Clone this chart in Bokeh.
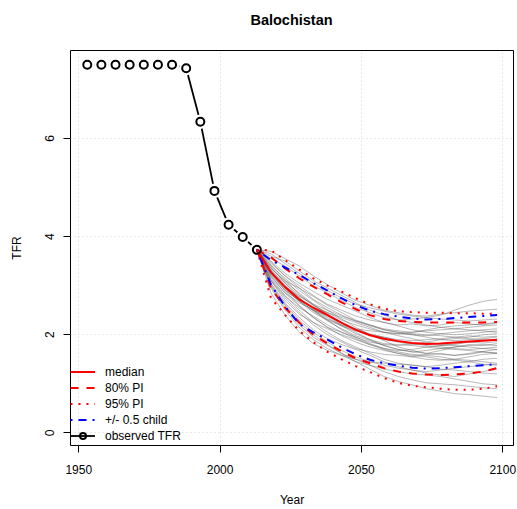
from bokeh.plotting import figure
from bokeh.models import Range1d, FixedTicker, Legend, LegendItem, Div
from bokeh.layouts import column
from bokeh.embed import file_html
from bokeh.resources import INLINE

# ---------------- data ----------------
title_text = "Balochistan"
obs_years = [1953, 1958, 1963, 1968, 1973, 1978, 1983, 1988, 1993, 1998, 2003, 2008, 2013]
obs_tfr = [7.5, 7.5, 7.5, 7.5, 7.5, 7.5, 7.5, 7.43, 6.34, 4.93, 4.24, 3.99, 3.73]

proj_years = [2013, 2018, 2023, 2028, 2033, 2038, 2043, 2048, 2053, 2058,
              2063, 2068, 2073, 2078, 2083, 2088, 2093, 2098]
median = [3.73, 3.27, 2.97, 2.72, 2.55, 2.40, 2.24, 2.10, 1.99, 1.92,
          1.87, 1.83, 1.81, 1.82, 1.84, 1.86, 1.88, 1.90]
pi80_hi = [3.73, 3.58, 3.35, 3.15, 2.98, 2.82, 2.66, 2.52, 2.40, 2.32,
           2.28, 2.26, 2.25, 2.25, 2.25, 2.25, 2.25, 2.26]
pi80_lo = [3.73, 2.95, 2.55, 2.25, 2.00, 1.82, 1.66, 1.52, 1.42, 1.32,
           1.25, 1.21, 1.19, 1.18, 1.19, 1.21, 1.25, 1.32]
pi95_hi = [3.73, 3.72, 3.52, 3.33, 3.15, 3.00, 2.88, 2.74, 2.62, 2.53,
           2.48, 2.46, 2.45, 2.45, 2.44, 2.44, 2.43, 2.43]
pi95_lo = [3.73, 2.75, 2.40, 2.08, 1.85, 1.65, 1.50, 1.36, 1.24, 1.12,
           1.02, 0.96, 0.93, 0.90, 0.88, 0.88, 0.90, 0.95]
half_hi = [3.73, 3.52, 3.37, 3.22, 3.05, 2.90, 2.74, 2.60, 2.49, 2.42,
           2.37, 2.33, 2.31, 2.32, 2.34, 2.36, 2.38, 2.40]
half_lo = [3.73, 3.02, 2.57, 2.22, 2.05, 1.90, 1.74, 1.60, 1.49, 1.42,
           1.37, 1.33, 1.31, 1.32, 1.34, 1.36, 1.38, 1.40]

trajectories = [
    [3.73, 3.45, 3.2, 3.0, 2.8, 2.62, 2.5, 2.38, 2.3, 2.25, 2.2, 2.22, 2.18, 2.2, 2.25, 2.22, 2.2, 2.24],
    [3.73, 3.1, 2.75, 2.45, 2.2, 2.0, 1.85, 1.72, 1.65, 1.6, 1.58, 1.55, 1.6, 1.62, 1.58, 1.6, 1.65, 1.63],
    [3.73, 3.3, 3.05, 2.8, 2.6, 2.42, 2.25, 2.1, 2.0, 1.9, 1.85, 1.8, 1.82, 1.78, 1.8, 1.85, 1.83, 1.86],
    [3.73, 3.55, 3.4, 3.2, 3.0, 2.85, 2.7, 2.55, 2.45, 2.35, 2.3, 2.32, 2.35, 2.4, 2.5, 2.6, 2.68, 2.72],
    [3.73, 3.0, 2.6, 2.25, 2.0, 1.8, 1.62, 1.45, 1.3, 1.15, 1.05, 0.98, 0.9, 0.85, 0.8, 0.78, 0.75, 0.72],
    [3.73, 3.25, 2.9, 2.6, 2.35, 2.15, 2.05, 1.95, 1.85, 1.8, 1.78, 1.82, 1.85, 1.9, 1.92, 1.95, 2.0, 2.02],
    [3.73, 3.4, 3.15, 2.9, 2.7, 2.5, 2.32, 2.15, 2.0, 1.88, 1.75, 1.68, 1.62, 1.6, 1.58, 1.62, 1.66, 1.7],
    [3.73, 3.2, 2.85, 2.65, 2.5, 2.38, 2.2, 2.05, 1.9, 1.78, 1.7, 1.65, 1.62, 1.68, 1.75, 1.8, 1.78, 1.82],
    [3.73, 3.35, 3.1, 2.95, 2.78, 2.6, 2.45, 2.3, 2.2, 2.1, 2.05, 2.0, 1.98, 2.02, 2.05, 2.08, 2.1, 2.12],
    [3.73, 3.15, 2.8, 2.5, 2.25, 2.05, 1.88, 1.75, 1.62, 1.5, 1.42, 1.38, 1.35, 1.38, 1.42, 1.45, 1.5, 1.52],
    [3.73, 3.6, 3.5, 3.3, 3.1, 2.95, 2.8, 2.65, 2.5, 2.4, 2.3, 2.25, 2.2, 2.15, 2.12, 2.1, 2.08, 2.05],
    [3.73, 3.05, 2.65, 2.35, 2.1, 1.92, 1.8, 1.7, 1.58, 1.45, 1.35, 1.28, 1.22, 1.18, 1.15, 1.2, 1.25, 1.3],
    [3.73, 3.3, 2.95, 2.68, 2.45, 2.3, 2.18, 2.08, 2.0, 1.95, 1.9, 1.88, 1.9, 1.92, 1.95, 1.98, 1.95, 1.97],
    [3.73, 3.22, 2.9, 2.7, 2.55, 2.45, 2.35, 2.25, 2.15, 2.05, 1.98, 1.92, 1.85, 1.8, 1.78, 1.75, 1.72, 1.7],
    [3.73, 3.38, 3.05, 2.75, 2.5, 2.3, 2.1, 1.95, 1.82, 1.72, 1.65, 1.6, 1.58, 1.55, 1.5, 1.48, 1.45, 1.42],
    [3.73, 3.5, 3.25, 3.05, 2.88, 2.72, 2.6, 2.48, 2.35, 2.25, 2.18, 2.1, 2.05, 2.02, 2.0, 2.02, 2.05, 2.08],
    [3.73, 2.95, 2.5, 2.15, 1.9, 1.72, 1.58, 1.45, 1.38, 1.3, 1.25, 1.2, 1.18, 1.15, 1.1, 1.05, 1.0, 0.98],
    [3.73, 3.28, 3.0, 2.75, 2.52, 2.35, 2.18, 2.02, 1.9, 1.82, 1.8, 1.78, 1.75, 1.72, 1.75, 1.78, 1.8, 1.78],
    [3.73, 3.42, 3.12, 2.82, 2.6, 2.45, 2.3, 2.2, 2.12, 2.05, 2.02, 2.0, 1.95, 1.9, 1.88, 1.9, 1.92, 1.95],
    [3.73, 3.18, 2.85, 2.58, 2.35, 2.15, 1.98, 1.85, 1.75, 1.68, 1.62, 1.58, 1.55, 1.5, 1.48, 1.45, 1.4, 1.38],
    [3.73, 3.65, 3.45, 3.25, 3.05, 2.9, 2.75, 2.62, 2.55, 2.48, 2.42, 2.38, 2.35, 2.32, 2.3, 2.28, 2.3, 2.32],
    [3.73, 3.1, 2.7, 2.42, 2.25, 2.12, 2.0, 1.9, 1.8, 1.72, 1.68, 1.7, 1.75, 1.78, 1.82, 1.85, 1.88, 1.9],
    [3.73, 3.32, 3.0, 2.7, 2.48, 2.28, 2.12, 1.98, 1.88, 1.78, 1.7, 1.65, 1.68, 1.72, 1.7, 1.68, 1.65, 1.62],
    [3.73, 3.25, 2.92, 2.68, 2.5, 2.32, 2.2, 2.12, 2.08, 2.05, 2.02, 2.05, 2.08, 2.1, 2.12, 2.15, 2.18, 2.2],
    [3.73, 3.02, 2.62, 2.3, 2.05, 1.85, 1.68, 1.55, 1.45, 1.38, 1.32, 1.28, 1.25, 1.28, 1.32, 1.35, 1.38, 1.4],
    [3.73, 3.48, 3.2, 2.95, 2.72, 2.55, 2.4, 2.28, 2.18, 2.1, 2.05, 2.02, 2.0, 1.98, 1.95, 1.92, 1.9, 1.88],
    [3.73, 3.35, 3.08, 2.85, 2.62, 2.42, 2.25, 2.12, 2.02, 1.95, 1.88, 1.82, 1.78, 1.75, 1.72, 1.7, 1.72, 1.75],
    [3.73, 3.12, 2.78, 2.55, 2.38, 2.2, 2.05, 1.92, 1.8, 1.7, 1.62, 1.55, 1.5, 1.48, 1.5, 1.55, 1.6, 1.62],
    [3.73, 3.28, 2.98, 2.78, 2.62, 2.5, 2.38, 2.28, 2.2, 2.12, 2.08, 2.05, 2.1, 2.15, 2.18, 2.2, 2.22, 2.25],
    [3.73, 2.98, 2.55, 2.2, 1.95, 1.78, 1.62, 1.5, 1.38, 1.25, 1.15, 1.08, 1.02, 1.0, 0.98, 0.95, 0.92, 0.9],
    [3.73, 3.7, 3.55, 3.4, 3.2, 3.02, 2.85, 2.7, 2.6, 2.5, 2.45, 2.4, 2.38, 2.42, 2.45, 2.48, 2.5, 2.52],
    [3.73, 2.85, 2.4, 2.05, 1.82, 1.68, 1.58, 1.5, 1.45, 1.42, 1.4, 1.38, 1.35, 1.3, 1.28, 1.25, 1.22, 1.2],
]

x_ticks = [1950, 2000, 2050, 2100]
y_ticks = [0, 2, 4, 6]

# ---------------- figure ----------------
FONT = "Liberation Sans"
X0, X1 = 1947.07, 2103.8
Y0, Y1 = -0.256, 7.79
p = figure(width=517, height=459,
           x_range=Range1d(X0, X1), y_range=Range1d(Y0, Y1),
           output_backend="svg", toolbar_location=None, title=None,
           min_border_left=70, min_border_right=4,
           min_border_top=0, min_border_bottom=63)

# title block above the plot, centred over the plot frame
title_div = Div(
    text=('<div style="position:absolute;left:66px;top:0;width:451px;'
          'text-align:center;font-family:\'Liberation Sans\';font-size:14.5px;'
          'font-weight:bold;line-height:40px;color:black;">%s</div>' % title_text),
    width=517, height=50, margin=0)

p.outline_line_color = "black"
p.outline_line_width = 1
p.background_fill_color = "white"
p.border_fill_color = "white"

p.xaxis.ticker = FixedTicker(ticks=x_ticks)
p.yaxis.ticker = FixedTicker(ticks=y_ticks)
p.xgrid.ticker = FixedTicker(ticks=x_ticks)
p.ygrid.ticker = FixedTicker(ticks=y_ticks)
for g in (p.xgrid, p.ygrid):
    g.grid_line_color = "#D3D3D3"
    g.grid_line_dash = "1 3"
    g.grid_line_width = 1

for ax in (p.xaxis, p.yaxis):
    ax.axis_line_color = None
    ax.major_tick_in = 0
    ax.major_tick_out = 7
    ax.major_tick_line_color = "black"
    ax.minor_tick_line_color = None
    ax.major_label_text_font = FONT
    ax.major_label_text_font_size = "12px"
    ax.major_label_text_color = "black"
    ax.axis_label_text_font = FONT
    ax.axis_label_text_font_size = "12px"
    ax.axis_label_text_font_style = "normal"
    ax.axis_label_text_color = "black"

p.xaxis.axis_label = "Year"
p.xaxis.major_label_standoff = 12
p.xaxis.axis_label_standoff = 16
p.yaxis.axis_label = "TFR"
p.yaxis.major_label_orientation = "vertical"
p.yaxis.major_label_standoff = 9
p.yaxis.axis_label_standoff = 19

# observed line (with gaps around points like R type="b")
obs_line = p.line(obs_years, obs_tfr, line_color="black", line_width=1.8)
p.scatter(obs_years, obs_tfr, size=14.6, fill_color="white", line_color=None)

# trajectories
p.multi_line(xs=[proj_years] * len(trajectories), ys=trajectories,
             line_color="#444444", line_alpha=0.42, line_width=0.9)

r95 = p.line(proj_years, pi95_hi, line_color="red", line_width=2, line_dash="2 6")
p.line(proj_years, pi95_lo, line_color="red", line_width=2, line_dash="2 6")
r80 = p.line(proj_years, pi80_hi, line_color="red", line_width=2, line_dash="8 8")
p.line(proj_years, pi80_lo, line_color="red", line_width=2, line_dash="8 8")
rhalf = p.line(proj_years, half_hi, line_color="blue", line_width=2, line_dash="2 6 8 6")
p.line(proj_years, half_lo, line_color="blue", line_width=2, line_dash="2 6 8 6")
rmed = p.line(proj_years, median, line_color="red", line_width=2)

obs_pts = p.scatter(obs_years, obs_tfr, size=8, fill_color=None,
                    line_color="black", line_width=2)

legend = Legend(items=[
    LegendItem(label="median", renderers=[rmed]),
    LegendItem(label="80% PI", renderers=[r80]),
    LegendItem(label="95% PI", renderers=[r95]),
    LegendItem(label="+/- 0.5 child", renderers=[rhalf]),
    LegendItem(label="observed TFR", renderers=[obs_line, obs_pts]),
], location=(0, 2))
legend.margin = 0
legend.padding = 3
legend.glyph_width = 25
legend.glyph_height = 15
legend.label_height = 15
legend.spacing = 1
legend.label_standoff = 10
legend.label_text_font = FONT
legend.label_text_font_size = "12px"
legend.label_text_color = "black"
legend.background_fill_alpha = 0
legend.border_line_color = None
p.add_layout(legend, "center")

layout = column(title_div, p, spacing=0)
open("out.html", "w").write(file_html(layout, INLINE))
